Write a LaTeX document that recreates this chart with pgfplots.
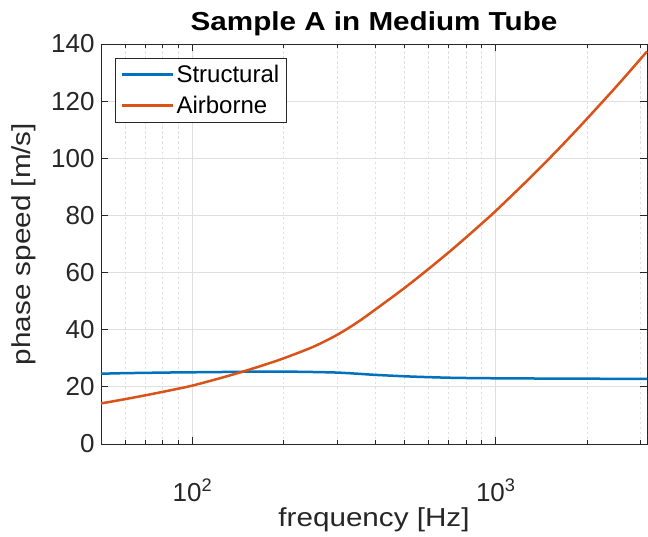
\documentclass[border=0pt]{standalone}
\usepackage{fontspec}
\setmainfont{Liberation Sans}
\newfontfamily\labelfont{Liberation Sans}[FakeStretch=1.14]
\usepackage{pgfplots}
\pgfplotsset{compat=1.18}
\definecolor{axgray}{RGB}{38,38,38}
\definecolor{mblue}{RGB}{0,114,189}
\definecolor{morange}{RGB}{217,83,25}
\definecolor{gridc}{RGB}{223,223,223}
\begin{document}
\begin{tikzpicture}
\begin{axis}[
  scale only axis, width=546pt, height=400pt,
  xmode=log, xmin=50, xmax=3150, ymin=0, ymax=140,
  xtick={100,1000}, xticklabels={10\textsuperscript{2},10\textsuperscript{3}},
  minor xtick={60,70,80,90,200,300,400,500,600,700,800,900,2000,3000},
  ytick={0,20,40,60,80,100,120,140},
  yticklabels={0,20,40,60,80,100,120,140},
  grid=both,
  major grid style={line width=0.9pt, color=gridc},
  minor grid style={line width=0.9pt, dash pattern=on 2.5pt off 2.5pt, color=gridc},
  tick align=inside, major tick length=7pt, minor tick length=4pt,
  axis line style={color=axgray, line width=1pt},
  every tick/.style={color=axgray, line width=1pt},
  ticklabel style={font=\fontsize{26}{30}\selectfont, text=axgray},
  xticklabel style={anchor=base, yshift=-57pt},
  yticklabel style={xshift=-3pt},
  xlabel={frequency [Hz]},
  ylabel={phase speed [m/s]},
  label style={font=\labelfont\fontsize{26}{31}\selectfont, text=axgray},
  xlabel style={at={(rel axis cs:0.5,0)}, anchor=base, yshift=-82pt},
  ylabel style={at={(rel axis cs:0,0.5)}, anchor=base, yshift=71pt},
  title={Sample A in Medium Tube},
  title style={font=\labelfont\bfseries\fontsize{26}{31}\selectfont, at={(rel axis cs:0.5,1)}, anchor=base, yshift=8pt},
  legend style={at={(rel axis cs:0,1)}, anchor=north west, xshift=14pt, yshift=-14pt,
    draw=axgray, line width=1pt, fill=white, font=\fontsize{24}{28}\selectfont,
    inner xsep=5pt, inner ysep=5pt, row sep=8pt, cells={anchor=west}},
  legend image code/.code={\draw[#1, line width=3pt] (0pt,0pt) -- (51pt,0pt);},
  clip=false,
]
\coordinate (sw) at (rel axis cs:0,0);
\coordinate (ne) at (rel axis cs:1,1);
\addplot[mblue, line width=2.5pt, smooth] coordinates {
(50,24.6) (60,24.8) (70,24.9) (80,25.0) (90,25.05) (100,25.1) (125,25.2) (150,25.3)
(175,25.35) (200,25.35) (250,25.2) (300,25.0) (350,24.6) (400,24.2) (500,23.7)
(600,23.4) (700,23.2) (800,23.1) (1000,23.0) (1500,22.9) (2000,22.85) (3150,22.8)
};
\addlegendentry{Structural}
\addplot[morange, line width=2.5pt, smooth] coordinates {
(50,14.2) (60,15.7) (70,17.04) (80,18.26) (90,19.39) (100,20.44) (125,23.2) (150,25.65)
(175,27.9) (200,30.0) (250,34.0) (300,38.2) (350,42.6) (400,47.0) (500,54.6)
(600,61.25) (700,67.1) (800,72.4) (900,77.2) (1000,81.6) (1250,91.5)
(1500,99.9) (1750,107.3) (2000,113.9) (2500,125.2) (3000,134.8) (3150,137.4)
};
\addlegendentry{Airborne}
\end{axis}
\pgfresetboundingbox
\useasboundingbox ([xshift=-101pt,yshift=-92pt]sw) rectangle ([xshift=1pt,yshift=44pt]ne);
\end{tikzpicture}
\end{document}
